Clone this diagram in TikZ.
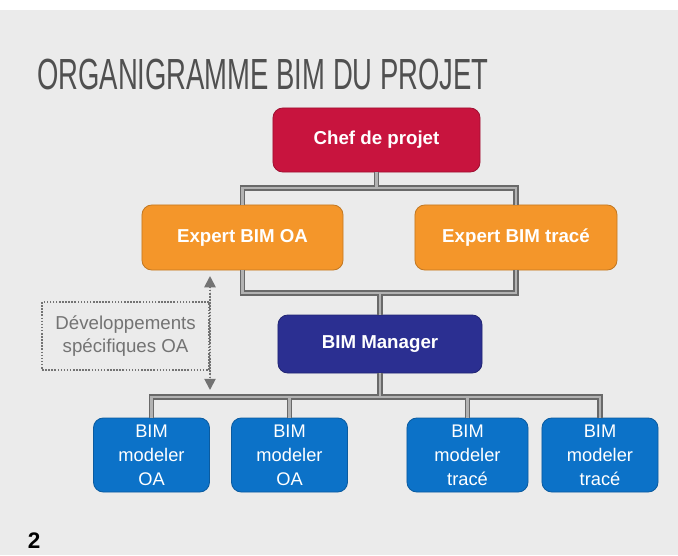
\documentclass[tikz,border=0pt]{standalone}
\usepackage{fontspec}
\setmainfont{Liberation Sans}
\usepackage{xcolor}
\usetikzlibrary{arrows.meta, positioning}
\definecolor{pagebg}{RGB}{235,235,235}
\definecolor{chefred}{RGB}{200,20,62}
\definecolor{expertorange}{RGB}{244,150,42}
\definecolor{managerblue}{RGB}{43,47,145}
\definecolor{modelerblue}{RGB}{12,114,200}
\definecolor{linkgray}{RGB}{105,105,105}
\definecolor{linkfill}{RGB}{178,178,178}
\definecolor{titlegray}{RGB}{80,80,80}
\definecolor{devgray}{RGB}{115,115,115}

\begin{document}
\begin{tikzpicture}[
  x=0.025cm, y=-0.025cm,
  box/.style={rectangle, rounded corners=7pt, draw=#1!80!black, fill=#1, line width=0.6pt,
    text=white, font=\fontsize{13.3}{16}\selectfont\bfseries, align=center},
  modeler/.style={box=modelerblue, minimum width=2.9cm, minimum height=1.85cm,
    font=\fontsize{13}{17}\selectfont},
  link/.style={draw=linkgray, double=linkfill, double distance=1.8pt, line width=1.1pt},
  devbox/.style={rectangle, draw=devgray, line width=1.3pt, dash pattern=on 1.1pt off 1.1pt,
    text=devgray, minimum width=4.175cm, minimum height=1.7cm, align=center,
    font=\fontsize{13.3}{16.5}\selectfont},
  devarrow/.style={{Triangle[width=8pt,length=8pt]}-{Triangle[width=8pt,length=8pt]},
    draw=devgray, fill=devgray, line width=1.3pt, dash pattern=on 1.1pt off 1.1pt}
]
% background
\fill[white] (0,0) rectangle (678,555);
\fill[pagebg] (0,10) rectangle (678,555);
\useasboundingbox (0,0) rectangle (678,555);

\node[anchor=west, text=titlegray, font=\fontsize{31}{31}\selectfont, xscale=0.63]
  (title) at (34,74) {ORGANIGRAMME BIM DU PROJET};

% boxes
\node[box=chefred, minimum width=5.175cm, minimum height=1.6cm] (chef) at (376.5,140) {Chef de projet};
\node[box=expertorange, minimum width=5.025cm, minimum height=1.625cm] (eoa) at (242.5,237.5) {Expert BIM OA};
\node[box=expertorange, minimum width=5.05cm, minimum height=1.625cm] (etr) at (516,237.5) {Expert BIM tracé};
\node[box=managerblue, minimum width=5.1cm, minimum height=1.45cm] (man) at (380,344) {BIM Manager};

\node[modeler] (m1) at (151.5,455) {BIM\\modeler\\OA};
\node[modeler] (m2) at (289.5,455) {BIM\\modeler\\OA};
\node[modeler, minimum width=3.025cm] (m3) at (467.5,455) {BIM\\modeler\\tracé};
\node[modeler] (m4) at (600,455) {BIM\\modeler\\tracé};

% connectors
\coordinate (b1) at (0,188);
\coordinate (b2) at (0,293);
\coordinate (b3) at (0,397);
\draw[link] (eoa.north) |- (etr.north |- b1) -- (etr.north)
  (chef.south) -- (chef.south |- b1);
\draw[link] (eoa.south) |- (etr.south |- b2) -- (etr.south)
  (man.north) -- (man.north |- b2);
\draw[link] (m1.north) |- (m4.north |- b3) -- (m4.north)
  (m2.north) -- (m2.north |- b3)
  (m3.north) -- (m3.north |- b3)
  (man.south) -- (man.south |- b3);

% specific developments
\node[devbox, anchor=east] (dev) at (210,336) {Développements\\spécifiques OA};
\coordinate (dt) at (210,276);
\coordinate (db) at (210,390);
\draw[devarrow] (dt) -- (db);

\node[anchor=base west, font=\fontsize{16}{16}\selectfont\bfseries] (num) at (23,548) {2};
\end{tikzpicture}
\end{document}
